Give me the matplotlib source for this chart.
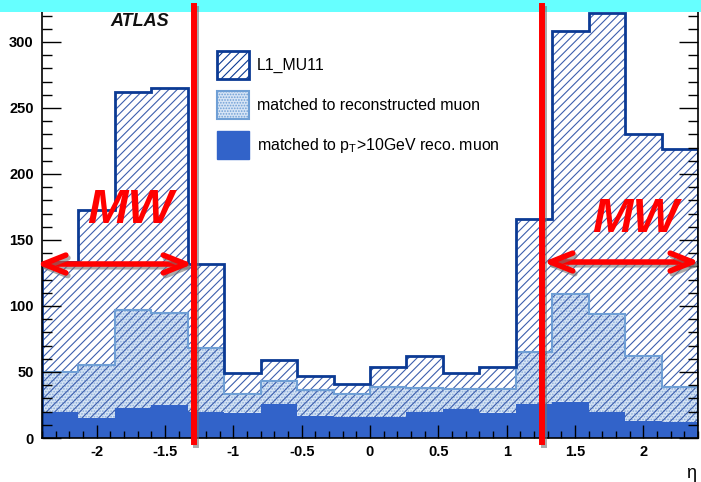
import matplotlib
matplotlib.use("Agg")
import matplotlib.pyplot as plt
import matplotlib.patheffects as pe
from matplotlib.patches import Patch, Rectangle
from matplotlib.lines import Line2D
from matplotlib.ticker import MultipleLocator

plt.rcParams['font.family'] = ['Liberation Sans', 'DejaVu Sans']
plt.rcParams['hatch.linewidth'] = 0.8

# 18 eta bins
edges = [-2.4, -2.133, -1.867, -1.6, -1.333, -1.067, -0.8, -0.533, -0.267, 0.0,
         0.267, 0.533, 0.8, 1.067, 1.333, 1.6, 1.867, 2.133, 2.4]
l1_mu11 = [133, 173, 262, 265, 132, 49, 59, 47, 41, 54, 62, 49, 54, 166, 308, 322, 230, 219]
matched_reco = [50, 55, 97, 95, 68, 33, 43, 36, 33, 39, 38, 37, 37, 65, 109, 94, 62, 39]
matched_pt10 = [20, 15, 23, 25, 20, 19, 26, 17, 16, 16, 20, 22, 19, 26, 27, 20, 13, 12]

xticks = [-2, -1.5, -1, -0.5, 0, 0.5, 1, 1.5, 2]
xticklabels = ['-2', '-1.5', '-1', '-0.5', '0', '0.5', '1', '1.5', '2']
yticks = [0, 50, 100, 150, 200, 250, 300]

# red annotations (eta positions, arrow height)
mw_lines = [-1.29, 1.26]
mw_arrows = [(-2.443, -1.295, 131.8), (1.266, 2.414, 133.3)]

navy = '#0b3a94'
hatch_blue = '#3d5fae'
light = '#d6e4f5'
light_edge = '#6f9fd5'
dark = '#3263c9'

fig = plt.figure(figsize=(7.01, 4.82), dpi=100)
ax = fig.add_axes([42 / 701, 44 / 482, 656 / 701, 428 / 482])
ax.set_xlim(-2.4, 2.4)
ax.set_ylim(0, 324.2)

ax.stairs(l1_mu11, edges, fill=True, facecolor='white', edgecolor='none', zorder=1.0)
ax.stairs(matched_reco, edges, fill=True, facecolor=light, edgecolor='#8cadda',
          hatch='......', lw=0, zorder=1.1)
ax.stairs(l1_mu11, edges, fill=True, facecolor='none', edgecolor=hatch_blue,
          hatch='////', lw=0, zorder=1.2)
ax.stairs(matched_pt10, edges, fill=True, facecolor=dark, edgecolor='none', zorder=1.3)
ax.stairs(matched_reco, edges, color=light_edge, lw=1.5, zorder=1.4)
ax.stairs(l1_mu11, edges, color=navy, lw=2, zorder=1.5)

ax.set_xticks(xticks)
ax.set_xticklabels(xticklabels)
ax.set_yticks(yticks)
ax.set_yticklabels([str(v) for v in yticks])
ax.xaxis.set_minor_locator(MultipleLocator(0.1))
ax.yaxis.set_minor_locator(MultipleLocator(10))
ax.tick_params(which='both', direction='in', left=True, right=True, top=False,
               bottom=True, width=1)
ax.tick_params(axis='y', which='major', length=14, pad=6)
ax.tick_params(axis='y', which='minor', length=7)
ax.tick_params(axis='x', which='major', length=9.5, pad=5)
ax.tick_params(axis='x', which='minor', length=5)
for lab in ax.get_xticklabels() + ax.get_yticklabels():
    lab.set_fontweight('bold')
    lab.set_fontsize(10.5)
ax.spines['top'].set_visible(False)
for s in ['left', 'right', 'bottom']:
    ax.spines[s].set_linewidth(1.2)

ax.text(0.149, 0.972, 'ATLAS', transform=ax.transAxes, ha='center', va='center',
        fontsize=13, fontweight='bold', fontstyle='italic', color='#111111')

handles = [
    Patch(facecolor='white', edgecolor=navy, hatch='////', lw=2),
    Patch(facecolor=light, edgecolor=light_edge, hatch='......', lw=1.5),
    Patch(facecolor=dark, edgecolor=dark),
]
labels = ['L1_MU11', 'matched to reconstructed muon',
          r'matched to p$_\mathregular{T}$>10GeV reco. muon']
ax.legend(handles, labels, loc='upper left', bbox_to_anchor=(0.267, 0.904),
          borderaxespad=0, borderpad=0, frameon=False, fontsize=11.4,
          handlelength=2.0, handleheight=2.32, labelspacing=0.77, handletextpad=0.5)

fig.text(691 / 701, 1 - 474 / 482, 'η', ha='center', va='center', fontsize=13)

# cyan band on top
fig.add_artist(Rectangle((0, 1 - 12 / 482), 1, 12 / 482, transform=fig.transFigure,
                         facecolor='#66ffff', edgecolor='none', zorder=5))

shadow = [pe.SimpleLineShadow(offset=(1.5, -2), shadow_color='0.45', alpha=0.6), pe.Normal()]
for x in mw_lines:
    fig.add_artist(Line2D([x, x], [327, -3], transform=ax.transData, color='red',
                          lw=4.3, zorder=6, path_effects=shadow))

for x0, x1, y in mw_arrows:
    ann = ax.annotate('', xy=(x0, y), xytext=(x1, y), annotation_clip=False,
                      arrowprops=dict(arrowstyle='<->,head_length=0.8,head_width=0.32',
                                      color='red', lw=4, shrinkA=0, shrinkB=0,
                                      mutation_scale=20))
    ann.arrow_patch.set_path_effects(shadow)

fig.text(130 / 701, 1 - 223 / 482, 'MW', ha='center', va='baseline', color='red',
         fontsize=35, fontweight='bold', fontstyle='italic', zorder=6)
fig.text(635 / 701, 1 - 232 / 482, 'MW', ha='center', va='baseline', color='red',
         fontsize=35, fontweight='bold', fontstyle='italic', zorder=6)

fig.savefig('out.png', dpi=100)
